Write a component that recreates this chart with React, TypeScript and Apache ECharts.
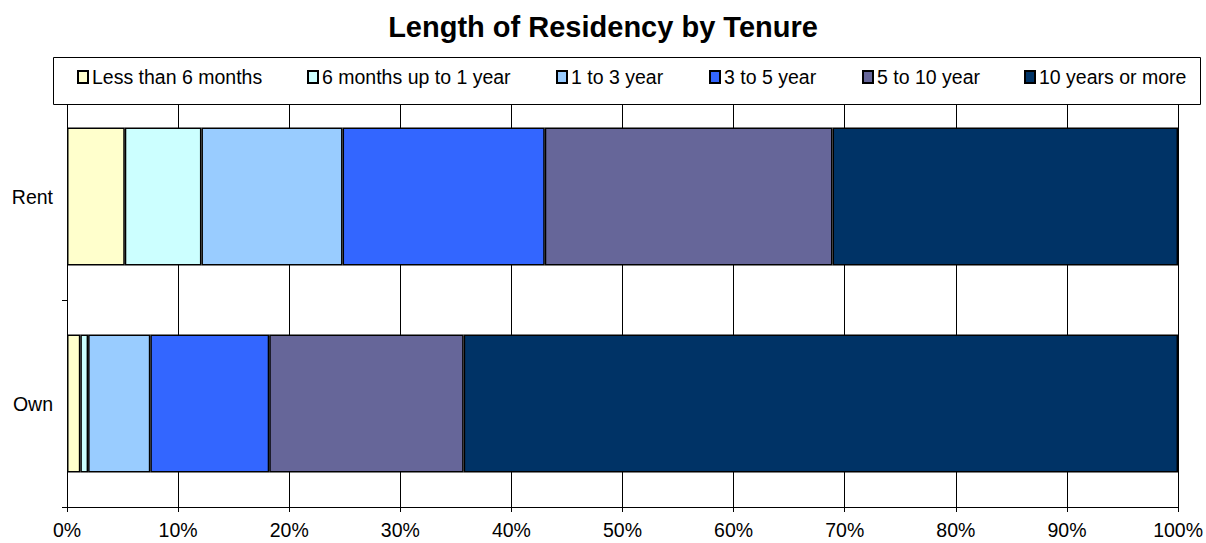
import React, { useEffect, useRef } from "react";
import * as echarts from "echarts";

const categories = ["Rent", "Own"];
const seriesNames = [
  "Less than 6 months",
  "6 months up to 1 year",
  "1 to 3 year",
  "3 to 5 year",
  "5 to 10 year",
  "10 years or more",
];
const lessThan6Months = [5.2, 1.2];
const sixMonthsTo1Year = [6.9, 0.7];
const oneTo3Year = [12.7, 5.6];
const threeTo5Year = [18.2, 10.7];
const fiveTo10Year = [25.9, 17.5];
const tenYearsOrMore = [31.1, 64.3];
const seriesValues = [
  lessThan6Months,
  sixMonthsTo1Year,
  oneTo3Year,
  threeTo5Year,
  fiveTo10Year,
  tenYearsOrMore,
];
const colors = ["#FFFFCC", "#CCFFFF", "#99CCFF", "#3366FF", "#666699", "#003366"];
const legendLefts = [77, 307, 556, 709, 862, 1024];

export default function App() {
  const ref = useRef<HTMLDivElement>(null);
  useEffect(() => {
    if (!ref.current) return;
    document.body.style.margin = "0";
    const chart = echarts.init(ref.current, undefined, { renderer: "svg" });
    const font = "Liberation Sans, Arial, sans-serif";
    chart.setOption({
      animation: false,
      backgroundColor: "#ffffff",
      textStyle: { fontFamily: font },
      title: {
        text: "Length of Residency by Tenure",
        left: "center",
        top: 7,
        textStyle: { fontFamily: font, fontSize: 29, fontWeight: "bold", color: "#000" },
      },
      graphic: [
        {
          type: "rect",
          shape: { x: 53.5, y: 57.5, width: 1147, height: 47 },
          style: { fill: "#fff", stroke: "#000", lineWidth: 1 },
          z: 50,
        },
      ],
      legend: seriesNames.map((n, i) => ({
        data: [n],
        left: legendLefts[i],
        top: 67,
        icon: "rect",
        itemWidth: 10,
        itemHeight: 12,
        itemGap: 0,
        padding: 0,
        z: 60,
        textStyle: { fontFamily: font, fontSize: 19.5, color: "#000", padding: [0, 0, 0, -1] },
      })),
      grid: { left: 67, right: 24, top: 93, bottom: 36 },
      xAxis: {
        type: "value",
        min: 0,
        max: 100,
        interval: 10,
        axisLabel: {
          formatter: "{value}%",
          fontFamily: font,
          fontSize: 19.5,
          color: "#000",
          margin: 13,
        },
        axisLine: { show: true, lineStyle: { color: "#000", width: 1 } },
        axisTick: { show: true, length: 5, lineStyle: { color: "#000" } },
        splitLine: { show: true, lineStyle: { color: "#000", width: 1 } },
      },
      yAxis: {
        type: "category",
        data: categories,
        inverse: true,
        axisLabel: { fontFamily: font, fontSize: 19.5, color: "#000", margin: 14 },
        axisLine: { show: true, lineStyle: { color: "#000", width: 1 } },
        axisTick: { show: true, length: 5, lineStyle: { color: "#000" } },
        splitLine: { show: false },
      },
      series: seriesNames.map((n, i) => ({
        name: n,
        type: "bar",
        stack: "total",
        data: seriesValues[i],
        barWidth: 138,
        itemStyle: { color: colors[i], borderColor: "#000", borderWidth: 1.5 },
        emphasis: { disabled: true },
      })),
    });
    return () => chart.dispose();
  }, []);
  return <div ref={ref} style={{ width: 1206, height: 543 }} />;
}
